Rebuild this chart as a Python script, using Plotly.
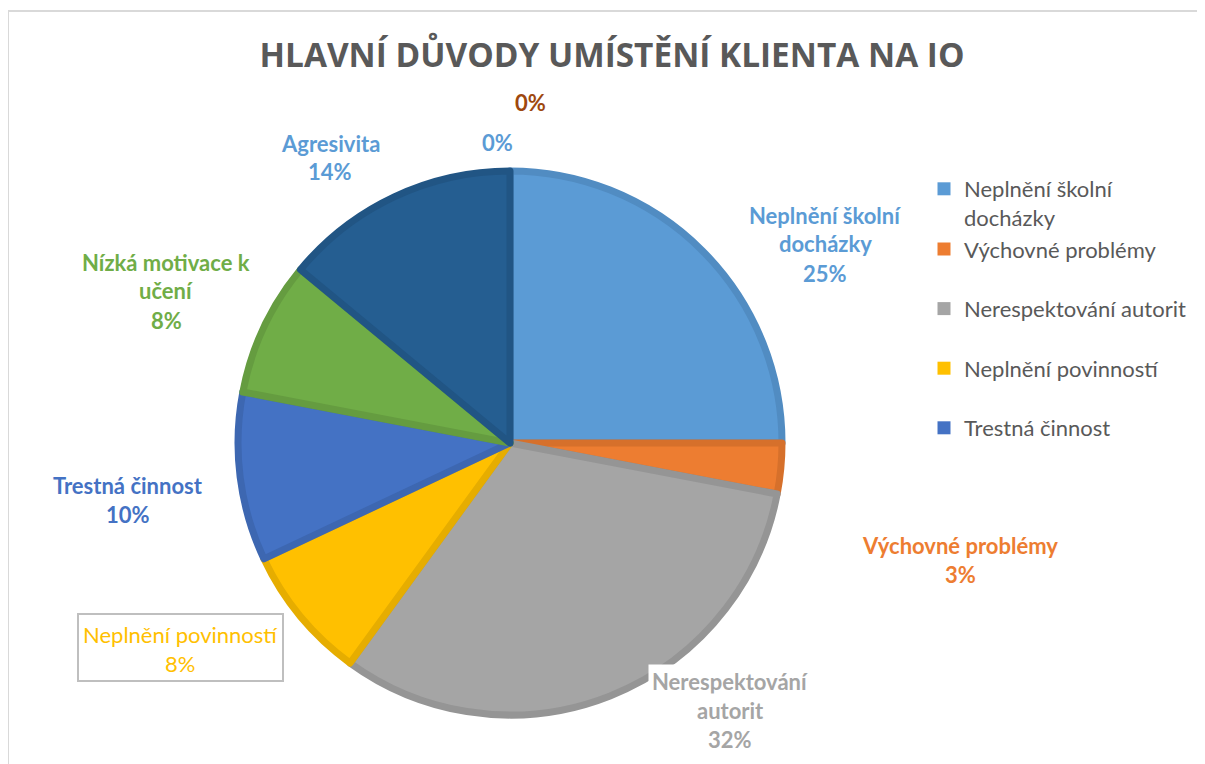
import plotly.graph_objects as go

W, H = 1205, 764

# ---- data ----
categories = ["Neplnění školní docházky", "Výchovné problémy", "Nerespektování autorit",
              "Neplnění povinností", "Trestná činnost", "Nízká motivace k učení",
              "Agresivita", "Jiné 1", "Jiné 2"]
values = [25, 3, 32, 8, 10, 8, 14, 0, 0]
slice_colors = ["#5B9BD5", "#ED7D31", "#A5A5A5", "#FFC000", "#4472C4", "#70AD47",
                "#255E91", "#9E480E", "#636363"]
edge_colors = ["#518CC2", "#D6702B", "#959595", "#E6AD00", "#3D67B1", "#659C40",
               "#215584", "#8E410D", "#595959"]
label_colors = ["#5B9BD5", "#ED7D31", "#A5A5A5", "#FFC000", "#4472C4", "#70AD47",
                "#5B9BD5", "#5B9BD5", "#9E480E"]
label_lines = [["Neplnění školní", "docházky"], ["Výchovné problémy"],
               ["Nerespektování", "autorit"], ["Neplnění povinností"],
               ["Trestná činnost"], ["Nízká motivace k", "učení"], ["Agresivita"], [], []]
legend_labels = ["Neplnění školní<br>docházky", "Výchovné problémy",
                 "Nerespektování autorit", "Neplnění povinností", "Trestná činnost"]
legend_groups = ["a", "a", "b", "c", "d"]
title_text = "HLAVNÍ DŮVODY UMÍSTĚNÍ KLIENTA NA IO"

# ---- layout helpers (window pixel -> paper; page body has an 8px margin) ----
OFF = 8

def px(x):
    return (x - OFF) / W

def py(y):
    return 1 - (y - OFF) / H

cx, cy, r = 510, 443, 272
FONT = "Lato"
LINE_H = 29

fig = go.Figure()
fig.add_trace(go.Pie(
    labels=categories, values=values, sort=False, direction="clockwise", rotation=0,
    marker=dict(colors=slice_colors,
                line=dict(color=edge_colors, width=[0 if v == 0 else 7 for v in values])),
    textinfo="none", hoverinfo="label+percent", showlegend=False,
    domain=dict(x=[px(cx - r), px(cx + r)], y=[py(cy + r), py(cy - r)]),
))

# legend entries (first five categories as shown in the reference)
for i, name in enumerate(legend_labels):
    fig.add_trace(go.Scatter(
        x=[None], y=[None], mode="markers", name=name, legendgroup=legend_groups[i],
        marker=dict(symbol="square", size=13, color=slice_colors[i]),
    ))

# data labels: (center x, y of first line) in window pixels
label_pos = [(825, 215), (960, 545), (730, 681), (180, 634), (128, 485),
             (166, 262), (330, 143), (497, 142), (530, 103)]
total = sum(values)
annotations = []
for i, v in enumerate(values):
    pct = f"{round(100 * v / total)}%"
    lines = label_lines[i] + [pct]
    x, y0 = label_pos[i]
    for k, line in enumerate(lines):
        ann = dict(x=px(x), y=py(y0 + k * LINE_H), xref="paper", yref="paper",
                   showarrow=False, xanchor="center", yanchor="middle",
                   font=dict(family=FONT, size=22, color=label_colors[i]))
        ann["text"] = line if i == 3 else f"<b>{line}</b>"
        if i == 2:
            ann.update(bgcolor="white", borderpad=3)
        annotations.append(ann)

fig.update_layout(
    width=W, height=H, margin=dict(l=0, r=0, t=0, b=0),
    paper_bgcolor="white", plot_bgcolor="white",
    title=dict(text=f"<b>{title_text}</b>", x=px(612), xanchor="center", y=py(55), yanchor="middle",
               font=dict(family="Open Sans", size=33.4, color="#595959")),
    xaxis=dict(visible=False), yaxis=dict(visible=False),
    legend=dict(x=px(924), y=py(168), xanchor="left", yanchor="top",
                font=dict(family=FONT, size=22, color="#595959"),
                tracegroupgap=28, valign="top", itemwidth=30, bgcolor="rgba(0,0,0,0)"),
    annotations=annotations,
    shapes=[
        dict(type="line", xref="paper", yref="paper", x0=px(8), x1=px(1204), y0=py(11), y1=py(11),
             line=dict(color="#D9D9D9", width=2)),
        dict(type="line", xref="paper", yref="paper", x0=px(8), x1=px(8), y0=py(11), y1=0,
             line=dict(color="#D9D9D9", width=2)),
        dict(type="rect", xref="paper", yref="paper", x0=px(78), x1=px(283), y0=py(614), y1=py(681),
             line=dict(color="#BFBFBF", width=2), layer="below"),
    ],
)

fig.write_html("out.html")
